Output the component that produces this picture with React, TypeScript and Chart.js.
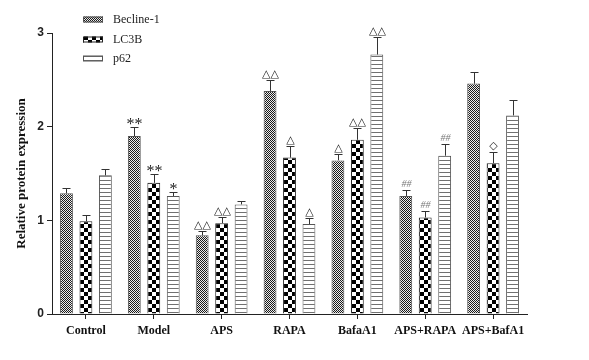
import React, { useEffect, useRef } from "react";
import { Chart, registerables } from "chart.js";

Chart.register(...registerables);

const categories = ["Control", "Model", "APS", "RAPA", "BafaA1", "APS+RAPA", "APS+BafA1"];
const seriesNames = ["Becline-1", "LC3B", "p62"];
const becline = [1.29, 1.9, 0.84, 2.38, 1.64, 1.26, 2.46];
const beclineErr = [0.06, 0.1, 0.05, 0.12, 0.07, 0.06, 0.12];
const lc3b = [0.99, 1.4, 0.97, 1.67, 1.86, 1.03, 1.61];
const lc3bErr = [0.07, 0.1, 0.07, 0.12, 0.13, 0.07, 0.12];
const p62 = [1.48, 1.26, 1.17, 0.96, 2.77, 1.69, 2.12];
const p62Err = [0.07, 0.04, 0.04, 0.06, 0.19, 0.13, 0.17];
const beclineMarks = ["", "**", "△△", "△△", "△", "##", ""];
const lc3bMarks = ["", "**", "△△", "△", "△△", "##", "◇"];
const p62Marks = ["", "*", "", "△", "△△", "##", ""];
const yTicks = [0, 1, 2, 3];

function makePattern(kind: string): CanvasPattern | string {
  const c = document.createElement("canvas");
  const ctx = c.getContext("2d");
  if (!ctx) return "#888";
  if (kind === "fine") {
    c.width = 2; c.height = 2;
    ctx.fillStyle = "#ececec"; ctx.fillRect(0, 0, 2, 2);
    ctx.fillStyle = "#1a1a1a"; ctx.fillRect(0, 0, 1, 1); ctx.fillRect(1, 1, 1, 1);
  } else if (kind === "checker") {
    c.width = 8; c.height = 8;
    ctx.fillStyle = "#ffffff"; ctx.fillRect(0, 0, 8, 8);
    ctx.fillStyle = "#000000"; ctx.fillRect(0, 0, 4, 4); ctx.fillRect(4, 4, 4, 4);
  } else {
    c.width = 4; c.height = 4;
    ctx.fillStyle = "#ffffff"; ctx.fillRect(0, 0, 4, 4);
    ctx.fillStyle = "#707070"; ctx.fillRect(0, 0, 4, 1);
  }
  const p = ctx.createPattern(c, "repeat");
  return p || "#888";
}

export default function App() {
  const ref = useRef<HTMLCanvasElement | null>(null);
  useEffect(() => {
    if (!ref.current) return;
    const fills = [makePattern("fine"), makePattern("checker"), makePattern("lines")];
    const borders = ["#555555", "#222222", "#555555"];
    const errs = [beclineErr, lc3bErr, p62Err];
    const marks = [beclineMarks, lc3bMarks, p62Marks];
    const values = [becline, lc3b, p62];

    const overlay = {
      id: "overlay",
      afterDatasetsDraw(chart: any) {
        const ctx = chart.ctx;
        const y = chart.scales.y;
        ctx.save();
        for (let d = 0; d < 3; d++) {
          const meta = chart.getDatasetMeta(d);
          meta.data.forEach((el: any, i: number) => {
            const v = values[d][i];
            const top = y.getPixelForValue(v + errs[d][i]);
            const x = Math.round(el.x) + 0.5;
            ctx.strokeStyle = "#333";
            ctx.lineWidth = 1;
            ctx.beginPath();
            ctx.moveTo(x, el.y);
            ctx.lineTo(x, Math.round(top) + 0.5);
            ctx.moveTo(x - 4, Math.round(top) + 0.5);
            ctx.lineTo(x + 4, Math.round(top) + 0.5);
            ctx.stroke();
            const m = marks[d][i];
            if (m) {
              ctx.textAlign = "center";
              ctx.textBaseline = "alphabetic";
              if (m.startsWith("*")) {
                ctx.fillStyle = "#222";
                ctx.font = "16px 'Liberation Serif'";
                ctx.fillText(m, x, top + 2);
              } else if (m.startsWith("#")) {
                ctx.fillStyle = "#777";
                ctx.font = "italic 10px 'Liberation Serif'";
                ctx.fillText(m, x, top - 3);
              } else {
                ctx.fillStyle = "#222";
                ctx.font = "11px 'DejaVu Sans'";
                ctx.fillText(m, x, top - 3);
              }
            }
          });
        }
        // legend
        const ly = [19.5, 39.5, 58.5];
        for (let d = 0; d < 3; d++) {
          ctx.fillStyle = fills[d] as any;
          ctx.fillRect(83, ly[d] - 3, 20, 6);
          ctx.strokeStyle = borders[d];
          ctx.lineWidth = 1;
          ctx.strokeRect(83.5, ly[d] - 2.5, 19, 5);
          ctx.fillStyle = "#222";
          ctx.font = "12px 'Liberation Serif'";
          ctx.textAlign = "left";
          ctx.textBaseline = "middle";
          ctx.fillText(seriesNames[d], 113, ly[d]);
        }
        ctx.restore();
      },
    };

    const chart = new Chart(ref.current, {
      type: "bar",
      data: {
        labels: categories,
        datasets: values.map((vals, d) => ({
          label: seriesNames[d],
          data: vals,
          backgroundColor: fills[d] as any,
          borderColor: borders[d],
          borderWidth: 1,
          categoryPercentage: 0.86,
          barPercentage: 0.66,
        })),
      },
      options: {
        responsive: false,
        animation: false,
        devicePixelRatio: 1,
        layout: { padding: { top: 33, right: 62, left: 0, bottom: 0 } },
        plugins: { legend: { display: false }, tooltip: { enabled: false } },
        scales: {
          x: {
            afterFit: (s: any) => { s.height = 46; },
            grid: { display: true, offset: false, drawOnChartArea: false, tickLength: 5, color: "#222" },
            border: { display: true, color: "#222", width: 1 },
            ticks: { color: "#111", padding: 5, font: { family: "'Liberation Serif'", size: 12, weight: "bold" }, maxRotation: 0, autoSkip: false },
          },
          y: {
            min: 0,
            max: 3,
            afterFit: (s: any) => { s.width = 52; },
            afterBuildTicks: (s: any) => { s.ticks = yTicks.map((v) => ({ value: v })); },
            grid: { display: true, drawOnChartArea: false, tickLength: 5, color: "#222" },
            border: { display: true, color: "#222", width: 1 },
            ticks: { color: "#222", padding: 3, font: { family: "'Liberation Sans'", size: 12, weight: "bold" } },
            title: {
              display: true,
              text: "Relative protein expression",
              color: "#111",
              padding: { top: 14, bottom: 0 },
              font: { family: "'Liberation Serif'", size: 13, weight: "bold" },
            },
          },
        },
      },
      plugins: [overlay],
    });
    return () => chart.destroy();
  }, []);

  return (
    <div style={{ position: "fixed", left: 0, top: 0, width: 589, height: 360, background: "#fff" }}>
      <canvas ref={ref} width={589} height={360} style={{ display: "block", width: 589, height: 360 }} />
    </div>
  );
}
